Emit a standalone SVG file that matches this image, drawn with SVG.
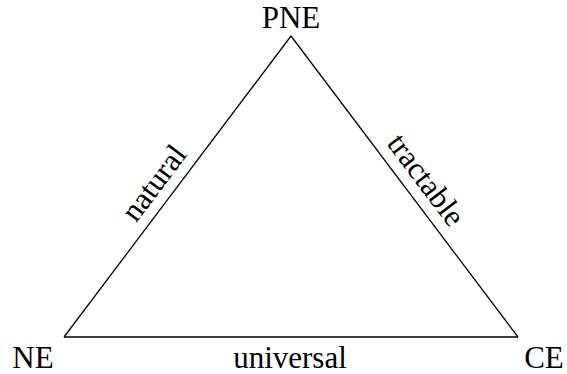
<svg xmlns="http://www.w3.org/2000/svg" width="567" height="374" viewBox="0 0 567 374">
<style>
.lbl{font-family:'Liberation Serif',serif;font-size:31px;fill:#000;text-anchor:middle}
.edge{stroke:#000;stroke-width:1.3;fill:none}
</style>
<rect width="567" height="374" fill="#fff"/>
<g id="connectors">
<line class="edge" x1="291" y1="36" x2="64" y2="337"/>
<line class="edge" x1="291" y1="36" x2="518" y2="337"/>
<line class="edge" x1="64" y1="337" x2="518" y2="337"/>
<text class="lbl" font-family="Liberation Serif" transform="translate(162,189) rotate(-53)">natural</text>
<text class="lbl" font-family="Liberation Serif" transform="translate(418,186) rotate(53)">tractable</text>
<text class="lbl" font-family="Liberation Serif" x="290" y="368">universal</text>
</g>
<g id="PNE"><text class="lbl" font-family="Liberation Serif" x="291" y="28">PNE</text></g>
<g id="NE"><text class="lbl" font-family="Liberation Serif" x="33" y="368">NE</text></g>
<g id="CE"><text class="lbl" font-family="Liberation Serif" x="544" y="368">CE</text></g>
</svg>
